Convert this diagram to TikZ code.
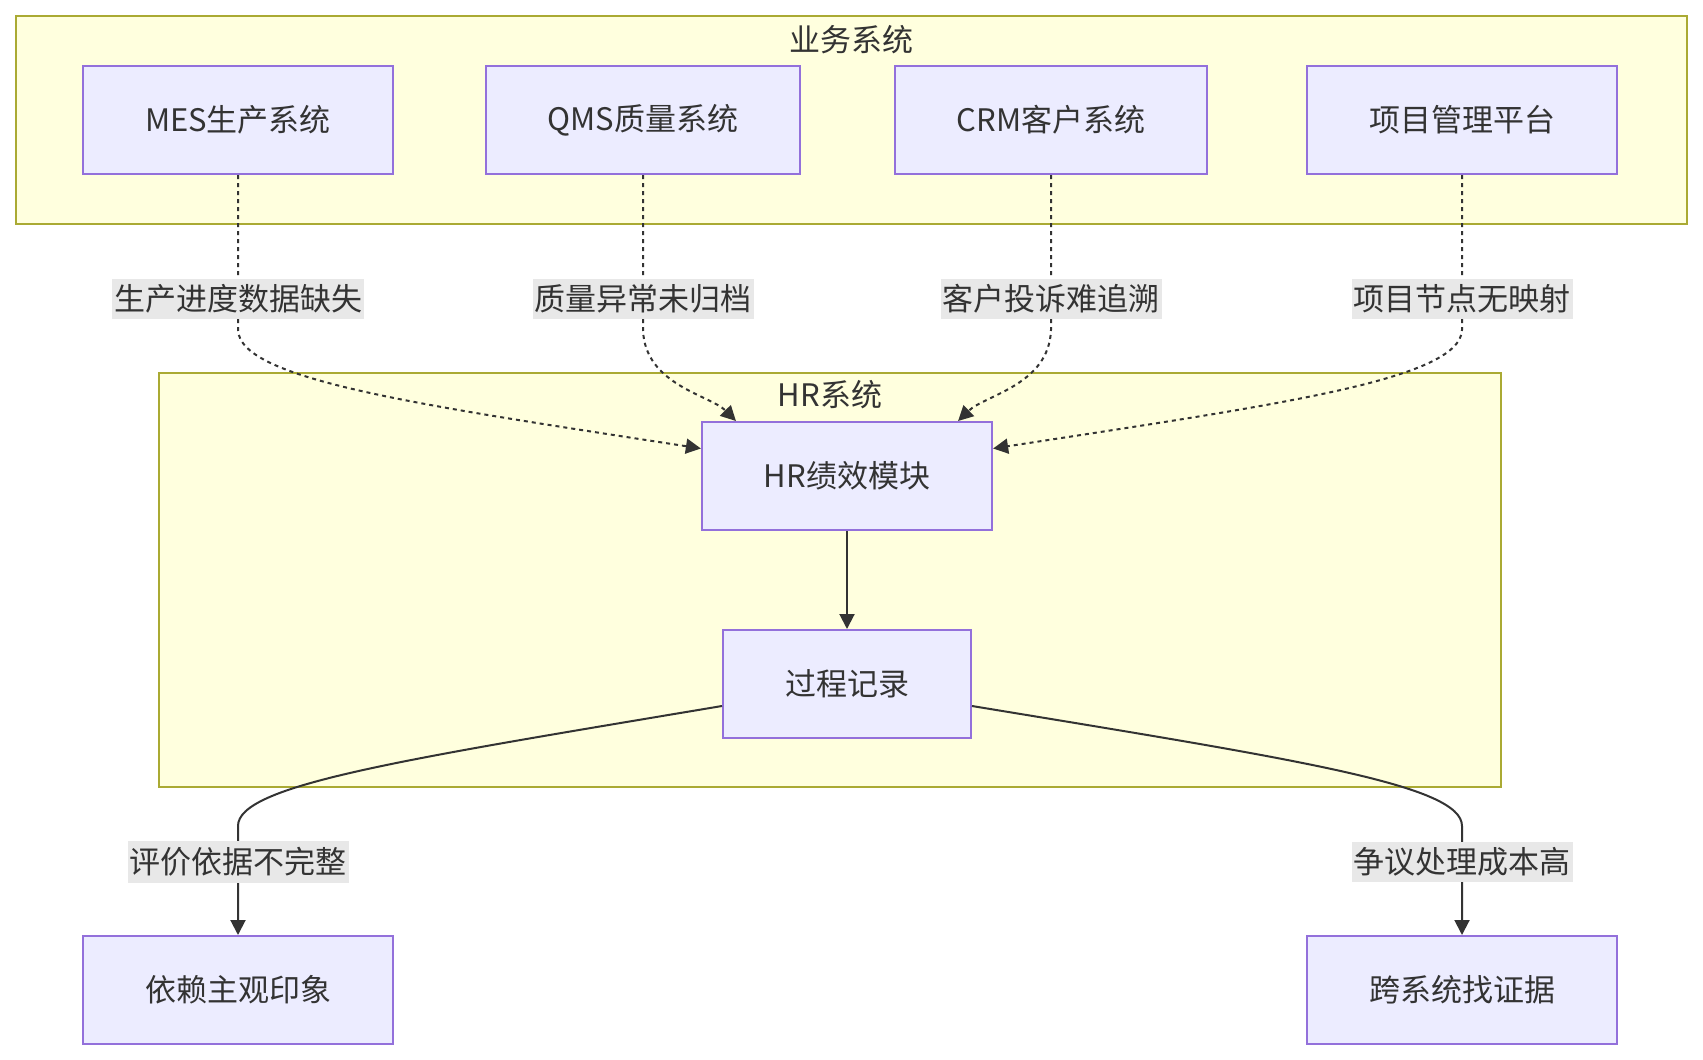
\documentclass[tikz,border=0pt]{standalone}
\usepackage{fontspec}
\setmainfont{Noto Sans CJK SC}
\usetikzlibrary{arrows.meta,calc}

\definecolor{boxfill}{HTML}{ECECFF}
\definecolor{boxline}{HTML}{9370DB}
\definecolor{groupfill}{HTML}{FFFFDE}
\definecolor{groupline}{HTML}{AAAA33}
\definecolor{labelbg}{HTML}{E8E8E8}
\definecolor{ink}{HTML}{333333}

\tikzset{
  txt/.style={text=ink, font=\fontsize{15.5}{18}\selectfont},
  box/.style={txt, draw=boxline, fill=boxfill, line width=1pt, minimum height=54pt, inner xsep=31pt},
  group/.style={draw=groupline, fill=groupfill, line width=1pt},
  elabel/.style={txt, fill=labelbg, inner xsep=1pt, inner ysep=3pt},
  dep/.style={draw=ink, line width=1pt, dash pattern=on 2pt off 2pt, -{Triangle[length=7.5pt,width=7.5pt]}},
  flow/.style={draw=ink, line width=1pt, -{Triangle[length=7.5pt,width=7.5pt]}},
}

\begin{document}
\begin{tikzpicture}[x=0.5pt, y=-0.5pt]

  \useasboundingbox (0,0) rectangle (1703,1060);

  % ---------------- clusters ----------------
  \draw[group] (16,16) rectangle (1687,224);
  \node[txt] (biztitle) at (851,40) {业务系统};
  \draw[group] (159,373) rectangle (1501,787);
  \node[txt] (hrtitle) at (830,395) {HR系统};

  % ---------------- business systems ----------------
  \node[box] (mes) at (238,120) {MES生产系统};
  \node[box] (qms) at (643,120) {QMS质量系统};
  \node[box] (crm) at (1051,120) {CRM客户系统};
  \node[box] (pm)  at (1462,120) {项目管理平台};

  % ---------------- HR side ----------------
  \node[box] (hr)  at (847,476) {HR绩效模块};
  \node[box] (rec) at (847,684) {过程记录};
  \node[box] (subj)  at (238,990)  {依赖主观印象};
  \node[box] (cross) at (1462,990) {跨系统找证据};

  % the missing feeds, dotted
  \coordinate (b1) at (238,330);
  \coordinate (b2) at (643,330);
  \coordinate (b3) at (1051,330);
  \coordinate (b4) at (1462,330);
  \draw[dep] (mes.south) -- node[elabel, pos=0.8] {生产进度数据缺失} (b1)
    .. controls (240,380) and (420,405) .. ($(hr.north west)!0.25!(hr.south west)$);
  \draw[dep] (qms.south) -- node[elabel, pos=0.8] {质量异常未归档} (b2)
    .. controls (645,385) and (710,395) .. ($(hr.north west)!0.12!(hr.north east)$);
  \draw[dep] (crm.south) -- node[elabel, pos=0.8] {客户投诉难追溯} (b3)
    .. controls (1049,385) and (985,395) .. ($(hr.north west)!0.88!(hr.north east)$);
  \draw[dep] (pm.south) -- node[elabel, pos=0.8] {项目节点无映射} (b4)
    .. controls (1460,380) and (1275,405) .. ($(hr.north east)!0.25!(hr.south east)$);

  % ---------------- consequences ----------------
  \draw[flow] (hr.south) -- (rec.north);
  \coordinate (bl) at (238,826);
  \coordinate (br) at (1462,826);
  \draw[flow] ($(rec.north west)!0.7!(rec.south west)$)
    .. controls (400,760) and (238,785) .. (bl)
    -- node[elabel, pos=0.33] {评价依据不完整} (subj.north);
  \draw[flow] ($(rec.north east)!0.7!(rec.south east)$)
    .. controls (1300,760) and (1462,785) .. (br)
    -- node[elabel, pos=0.33] {争议处理成本高} (cross.north);

\end{tikzpicture}
\end{document}
